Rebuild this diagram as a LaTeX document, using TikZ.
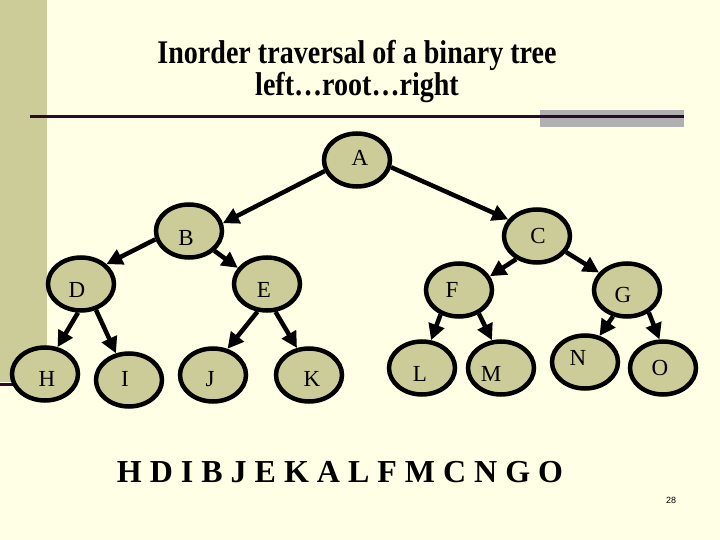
\documentclass[tikz,border=0pt]{standalone}
\usepackage{fontspec}
\usepackage{graphicx}
\setmainfont{Liberation Serif}
\newfontfamily\arialfont{Liberation Sans}
\usetikzlibrary{shapes.geometric,arrows.meta}
\definecolor{bg}{HTML}{FFFFE5}
\definecolor{barcol}{HTML}{CCCC99}
\definecolor{grayrect}{HTML}{B0B0B0}
\definecolor{rulecol}{HTML}{2A0A2A}
\begin{document}
\begin{tikzpicture}[x=1pt,y=-1pt,
 bub/.style={ellipse,draw=black,line width=4.5pt,fill=barcol,minimum width=66pt,minimum height=53pt,inner sep=0pt},
 lbl/.style={font=\fontsize{23}{23}\selectfont,inner sep=0pt},
 arr/.style={line width=4.5pt,-{Triangle[length=16pt,width=16pt]}},
 title/.style={font=\fontsize{33}{28}\selectfont\bfseries,inner sep=0pt,align=center}]
\fill[bg] (0,0) rectangle (720,540);
\useasboundingbox (0,0) rectangle (720,540);
\fill[barcol] (0,0) rectangle (47,382);
\fill[grayrect] (540,110) rectangle (684,127);
\draw[rulecol,line width=3pt] (30,117) -- (684,117);
\draw[rulecol,line width=3pt] (0,384.5) -- (14,384.5);
\node[title] (t1) at (357,71.5) {\scalebox{0.85}[1]{Inorder traversal of a binary tree}\\\scalebox{0.85}[1]{left…root…right}};
% nodes
\node[bub] (A) at (357,160) {};
\node[bub] (B) at (189,231) {};
\node[bub] (C) at (537,236) {};
\node[bub] (D) at (81,284) {};
\node[bub] (E) at (267,284) {};
\node[bub] (F) at (459,290) {};
\node[bub] (G) at (627,290) {};
\node[bub] (H) at (45,374) {};
\node[bub] (I) at (129,380) {};
\node[bub] (J) at (213,375) {};
\node[bub] (K) at (309,375) {};
\node[bub] (L) at (422,368) {};
\node[bub] (M) at (501,368) {};
\node[bub] (N) at (585,362) {};
\node[bub] (O) at (663,368) {};
% labels
\node[lbl] (lA) at (360,158) {A};
\node[lbl] (lB) at (186,238) {B};
\node[lbl] (lC) at (538,236) {C};
\node[lbl] (lD) at (77,290) {D};
\node[lbl] (lE) at (264,290) {E};
\node[lbl] (lF) at (452,290) {F};
\node[lbl] (lG) at (623,295) {G};
\node[lbl] (lH) at (47,379) {H};
\node[lbl] (lI) at (125,379) {I};
\node[lbl] (lJ) at (210,379) {J};
\node[lbl] (lK) at (312,379) {K};
\node[lbl] (lL) at (420,374) {L};
\node[lbl] (lM) at (491,374) {M};
\node[lbl] (lN) at (578,358) {N};
\node[lbl] (lO) at (660,368) {O};
% arrows
\draw[arr] (A.199) -- (B.13);
\draw[arr] (A.348) -- (C.150);
\draw[arr] (B.194) -- (D.38);
\draw[arr] (B.322) -- (E.151);
\draw[arr] (D.264) -- (H.65);
\draw[arr] (D.300) -- (I.116);
\draw[arr] (E.251) -- (J.61);
\draw[arr] (E.287) -- (K.114);
\draw[arr] (C.228) -- (F.24);
\draw[arr] (C.331) -- (G.148);
\draw[arr] (F.233) -- (L.72);
\draw[arr] (F.310) -- (M.108);
\draw[arr] (G.242) -- (N.61);
\draw[arr] (G.314) -- (O.97);
% sequence
\node[font=\fontsize{32}{32}\selectfont\bfseries,inner sep=0pt] (seq) at (340,472) {H D I B J E K A L F M C N G O};
\node[font=\arialfont\fontsize{9}{9}\selectfont,inner sep=0pt] (pg) at (671,500) {28};
\end{tikzpicture}
\end{document}
